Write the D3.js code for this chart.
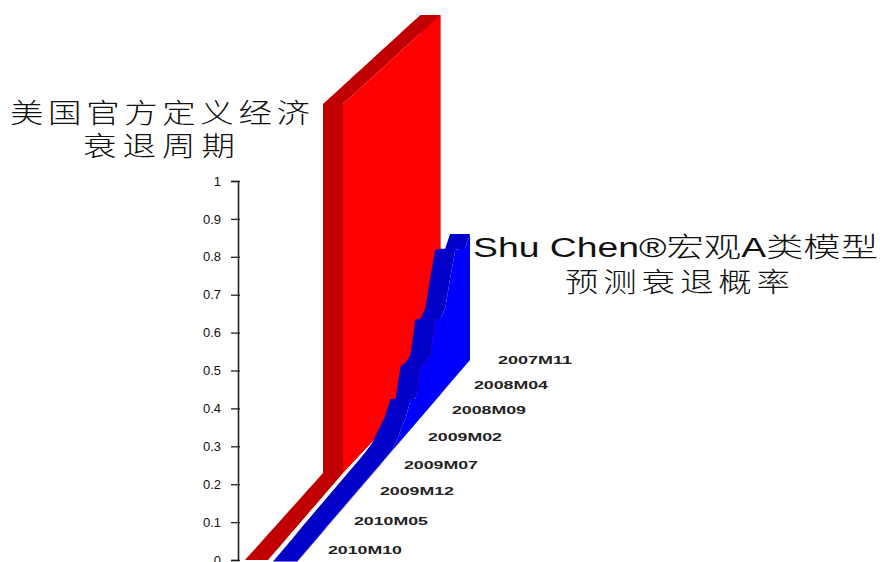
<!DOCTYPE html>
<html>
<head>
<meta charset="utf-8">
<script src="https://cdn.jsdelivr.net/npm/d3@7"></script>
<style>
  html, body { margin: 0; padding: 0; background: #fff; }
  svg { display: block; }
</style>
</head>
<body>
<svg id="chart" width="880" height="562"></svg>
<script>
// Monthly values, back of the chart (2007M11) to front (2010M10).
const months = [
  "2007M11","2007M12","2008M01","2008M02","2008M03","2008M04","2008M05","2008M06","2008M07",
  "2008M08","2008M09","2008M10","2008M11","2008M12","2009M01","2009M02","2009M03","2009M04",
  "2009M05","2009M06","2009M07","2009M08","2009M09","2009M10","2009M11","2009M12","2010M01",
  "2010M02","2010M03","2010M04","2010M05","2010M06","2010M07","2010M08","2010M09","2010M10"
];
const recessionValues = [
  0,1,1,1,1,1,1,1,1,1,1,1,1,1,1,1,1,1,1,1,
  0,0,0,0,0,0,0,0,0,0,0,0,0,0,0,0
];
const modelValues = [
  0.356,0.329,0.345,0.357,0.294,0.226,0.211,0.226,0.142,0.136,0.143,0.068,0.083,0.047,0.030,0.010,
  0.002,0.002,0.002,0.002,0.002,0.002,0.002,0.002,0.002,0.002,0.002,0.002,0.002,0.002,0.002,0.001,
  0.001,0.001,0.001,0.001
];
const depthTicks = ["2007M11","2008M04","2008M09","2009M02","2009M07","2009M12","2010M05","2010M10"];
const valueTicks = [0,0.1,0.2,0.3,0.4,0.5,0.6,0.7,0.8,0.9,1];

const recessionTitle = ["美国官方定义经济","衰退周期"];
const modelTitle = ["Shu Chen®宏观A类模型","预测衰退概率"];

const svg = d3.select("#chart");
const last = months.length - 1;

// Oblique projection: each ribbon recedes up and to the right with month index,
// and a unit of value shrinks slightly with distance.
const unitHeight = d3.scaleLinear().domain([0, last]).range([354, 381.5]);

const recessionRight = d3.scaleLinear().domain([0, 19, last]).range([445.8, 343, 268]);
const recessionWidth = d3.scaleLinear().domain([0, 19, last]).range([20, 20, 23]);
const recessionFloor = d3.scaleLinear().domain([0, 19, last]).range([364, 473, 560]);

const modelRight = d3.scaleLinear().domain([0, last]).range([470, 297]);
const modelWidth = d3.scaleLinear().domain([0, 12, 16, last]).range([20, 20, 25, 24]);
const modelFloor = d3.scaleLinear().domain([0, last]).range([360, 562]);

const polygon = d3.line().x(d => d[0]).y(d => d[1]).curve(d3.curveLinearClosed);

// On/off series get vertical walls: the transition sits on the "on" month.
function wallProfile(values) {
  const pts = [];
  values.forEach((v, i) => {
    if (i > 0 && v > values[i - 1]) pts.push([i, values[i - 1]]);
    pts.push([i, v]);
    if (i < last && v > values[i + 1]) pts.push([i, values[i + 1]]);
  });
  return pts;
}
const plainProfile = values => values.map((v, i) => [i, v]);

// A ribbon is a chain of top-surface quads plus one side face along its right edge.
// The quads share one path and one winding so that they fill without seams.
function drawRibbon(profile, rightScale, widthScale, floorScale, topColor, sideColor, name) {
  const y = ([i, v]) => floorScale(i) - v * unitHeight(i);
  const right = profile.map(p => [rightScale(p[0]), y(p)]);
  const left = profile.map(p => [rightScale(p[0]) - widthScale(p[0]), y(p)]);
  const floor = profile.map(p => [rightScale(p[0]), floorScale(p[0])]);
  const quads = d3.range(profile.length - 1).map(k => {
    const q = [left[k], left[k + 1], right[k + 1], right[k]];
    return polygon(d3.polygonArea(q) < 0 ? q.slice().reverse() : q);
  });
  const g = svg.append("g").attr("class", name);
  g.append("path")
    .attr("class", "top")
    .attr("d", quads.join(""))
    .attr("fill", topColor);
  g.append("path")
    .attr("class", "side")
    .attr("d", polygon(right.concat(floor.slice().reverse())))
    .attr("fill", sideColor);
}

// Value axis
const yScale = d3.scaleLinear().domain([0, 1]).range([560, 181]);
const axis = d3.axisLeft(yScale)
  .tickValues(valueTicks)
  .tickFormat(d3.format("~g"))
  .tickSize(7)
  .tickPadding(10);
const axisG = svg.append("g")
  .attr("transform", "translate(238,0)")
  .call(axis);
axisG.select(".domain").attr("stroke", "#222").attr("stroke-width", 1.6);
axisG.selectAll(".tick line").attr("stroke", "#222").attr("x1", 2).attr("stroke-width", 1.3);
axisG.selectAll(".tick text")
  .attr("font-family", "'Liberation Sans', Arial, sans-serif")
  .attr("font-size", 13)
  .attr("fill", "#111");

drawRibbon(wallProfile(recessionValues), recessionRight, recessionWidth, recessionFloor, "#c00000", "#ff0000", "recession");
drawRibbon(plainProfile(modelValues), modelRight, modelWidth, modelFloor, "#0000c8", "#0000ff", "model");

// Month labels along the front-right edge of the floor
const labelAt = [0, 5, 10, 15, 20, 25, 30, 35];
const labelX = d3.scaleLinear().domain(labelAt).range([498, 474, 452, 428, 404, 380, 354, 328]);
const labelY = d3.scaleLinear().domain(labelAt).range([364, 389, 414, 441, 469, 495, 525, 554]);
svg.append("g").selectAll("text")
  .data(depthTicks)
  .join("text")
  .attr("x", d => labelX(months.indexOf(d)))
  .attr("y", d => labelY(months.indexOf(d)))
  .attr("textLength", 74)
  .attr("lengthAdjust", "spacingAndGlyphs")
  .attr("font-family", "'Liberation Sans', Arial, sans-serif")
  .attr("font-size", 11)
  .attr("font-weight", "bold")
  .attr("fill", "#222")
  .text(d => d);

// Series titles: the Chinese rows are widened a little and letterspaced to their full measure
const cjk = "'Noto Sans CJK SC', 'Noto Sans', sans-serif";
const mixed = "'Liberation Sans', 'Noto Sans CJK SC', sans-serif";
const titleRows = [
  { text: recessionTitle[0], x: 10, y: 123, len: 300, size: 27, font: cjk, sx: 1.24, adjust: "spacing" },
  { text: recessionTitle[1], x: 83, y: 156, len: 152, size: 27, font: cjk, sx: 1.24, adjust: "spacing" },
  { text: modelTitle[0], x: 473, y: 257, len: 405, size: 27, font: mixed, sx: 1, adjust: "spacingAndGlyphs" },
  { text: modelTitle[1], x: 565, y: 292, len: 225, size: 27, font: cjk, sx: 1.24, adjust: "spacing" }
];
svg.append("g").selectAll("text")
  .data(titleRows)
  .join("text")
  .attr("transform", d => `translate(${d.x},${d.y}) scale(${d.sx},1)`)
  .attr("textLength", d => d.len / d.sx)
  .attr("lengthAdjust", d => d.adjust)
  .attr("font-family", d => d.font)
  .attr("font-size", d => d.size)
  .attr("font-weight", 300)
  .attr("fill", "#111")
  .text(d => d.text);
</script>
</body>
</html>
